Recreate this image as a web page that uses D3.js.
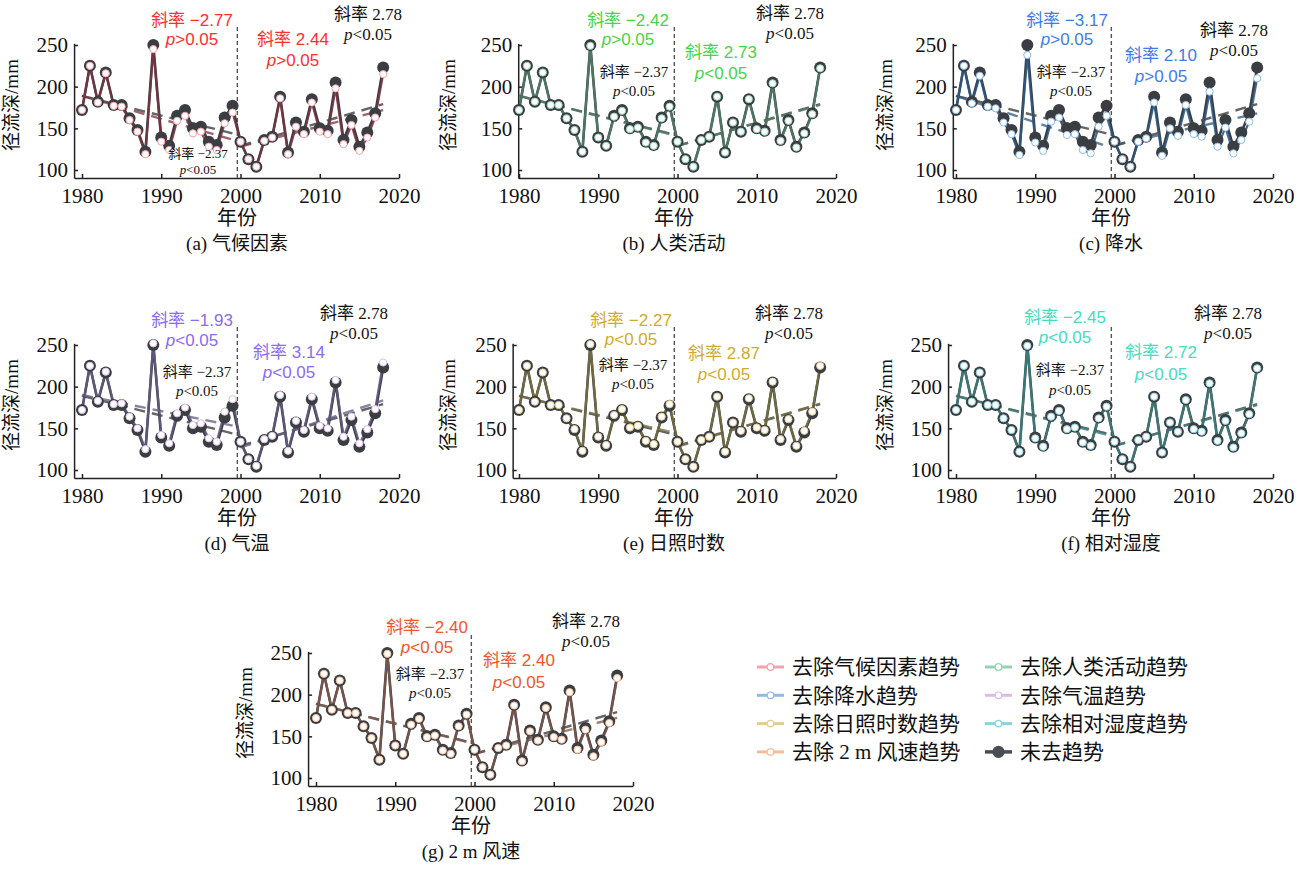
<!DOCTYPE html>
<html>
<head>
<meta charset="utf-8">
<script src="https://cdn.jsdelivr.net/npm/d3@7"></script>
<style>
  body { margin: 0; background: #fff; }
  svg text { font-family: "Liberation Serif", "Noto Sans CJK SC", serif; }
</style>
</head>
<body>
<div id="chart"></div>
<script>
//******** data ********
var years = d3.range(1980, 2019);
// 未去趋势 (original runoff depth, mm)
var runoff = [172,225,182,217,178,178,162,148,122,250,139,129,165,172,150,152,134,130,163,177,
              134,113,104,136,140,188,121,157,146,185,150,147,205,136,160,128,145,168,223];
// runoff after removing the trend of each factor
var noClimate  = [172,225,181,216,177,176,160,146,119,245,134,124,159,165,144,146,128,124,156,169,
                  134,113,104,135,139,186,119,152,143,181,146,143,198,131,154,123,139,163,215];
var noHuman    = [172,225,182,217,178,178,162,148,122,249,139,129,164,171,149,151,133,129,162,176,
                  134,113,104,136,140,188,121,157,146,185,149,146,204,135,159,127,144,167,222];
var noPrecip   = [172,225,180,213,176,174,157,143,118,238,133,123,158,163,142,143,124,120,152,165,
                  134,113,104,134,138,181,117,150,141,178,143,140,194,128,151,120,136,158,210];
var noTemp     = [172,225,183,218,179,180,164,150,125,252,142,132,168,175,154,156,138,134,170,185,
                  134,113,105,137,141,190,123,159,148,188,153,150,208,140,164,132,149,173,229];
var noSunshine = [172,225,182,217,178,178,162,149,123,251,140,130,166,173,151,153,135,131,164,179,
                  134,113,104,136,140,188,122,157,147,186,151,148,206,137,161,129,147,170,225];
var noHumidity = [172,225,182,217,178,178,162,148,122,249,138,128,164,171,149,151,133,129,162,176,
                  134,113,104,136,140,188,121,157,146,184,149,146,204,135,159,127,144,167,222];
var noWind     = [172,225,182,217,178,178,162,148,122,249,139,129,164,171,149,151,133,129,162,176,
                  134,113,104,136,139,187,120,156,145,184,149,146,203,134,158,126,143,166,220];

var panelIds   = ['a','b','c','d','e','f','g'];
var panelNames = ['气候因素','人类活动','降水','气温','日照时数','相对湿度','2 m 风速'];
var slopeBefore = [-2.77,-2.42,-3.17,-1.93,-2.27,-2.45,-2.40];
var slopeAfter  = [2.44, 2.73, 2.10, 3.14, 2.87, 2.72, 2.40];
var pBefore = ['>0.05','>0.05','>0.05','<0.05','<0.05','<0.05','<0.05'];
var pAfter  = ['>0.05','<0.05','>0.05','<0.05','<0.05','<0.05','<0.05'];
var trendStartBefore = [189,189,189,190,189,189,189];
var trendStartAfter  = [128,129,130,127,128,129,129];
var baseSlopeBefore = -2.37, baseSlopeAfter = 2.78;
var baseStartBefore = 189, baseStartAfter = 129;
var breakYear = 1999.6;

var xTicks = [1980,1990,2000,2010,2020];
var yTicks = [100,150,200,250];

var legendLabels = ['去除气候因素趋势','去除人类活动趋势','去除降水趋势','去除气温趋势',
                    '去除日照时数趋势','去除相对湿度趋势','去除 2 m 风速趋势'];

//******** styles ********
var labelColors = ['#ff2e2e','#47d447','#3d7de8','#8a6cf2','#cfab2c','#45dcc0','#f2562a'];
var lineColors  = ['#7a3340','#4f7d66','#2e5883','#615b82','#766f42','#3b7f7e','#7e574a'];
var lightColors = ['#f4a3aa','#93d3b5','#8fbbe3','#d9bde3','#e3cc8e','#8dd3df','#f7bb95'];
var darkColor = '#3a3d42';

var detrended = [noClimate, noHuman, noPrecip, noTemp, noSunshine, noHumidity, noWind];

// panel placement: x0 = pixel of 1980, y0 = pixel of 250 mm
// c1/c2/k/s: [dx, dy of first line, line gap]
var layout = [
  {x0: 82,  y0: 45,  axisYear: 1979,   c1: [110,-19,19], c2: [211,0,21],  k: [286,-25,20], s: [116,113,16], sf: 13},
  {x0: 519, y0: 45,  axisYear: 1979.9, c1: [109,-19,19], c2: [202,13,21], k: [271,-26,20], s: [115,32,19],  sf: 15},
  {x0: 956, y0: 45,  axisYear: 1979.6, c1: [111,-19,19], c2: [205,16,21], k: [278,-9,20],  s: [115,32,19],  sf: 15},
  {x0: 82,  y0: 345, axisYear: 1979,   c1: [110,-19,20], c2: [207,13,20], k: [272,-26,20], s: [115,32,19],  sf: 15},
  {x0: 519, y0: 345, axisYear: 1979.2, c1: [112,-19,19], c2: [205,14,21], k: [270,-26,20], s: [114,25,19],  sf: 15},
  {x0: 956, y0: 345, axisYear: 1979,   c1: [109,-22,20], c2: [205,13,22], k: [272,-26,20], s: [114,30,20],  sf: 15},
  {x0: 316, y0: 653, axisYear: 1979,   c1: [111,-20,20], c2: [203,13,22], k: [270,-26,20], s: [114,26,19],  sf: 15}
];

var svg = d3.select('#chart').append('svg')
  .attr('width', 1305).attr('height', 869);

var sansFont = '"Liberation Sans", "Noto Sans CJK SC", sans-serif';

function fmt(v) {
  return (v < 0 ? '\u2212' : '') + Math.abs(v).toFixed(2);
}

// two-line "斜率 x / p<0.05" note
function note(g, pos, x0, y0, slope, p, color, size, font) {
  var cx = x0 + pos[0], cy = y0 + pos[1];
  var t1 = g.append('text').attr('x', cx).attr('y', cy)
    .attr('text-anchor', 'middle').attr('fill', color).style('font-size', size + 'px')
    .text('斜率 ' + fmt(slope));
  var t2 = g.append('text').attr('x', cx).attr('y', cy + pos[2])
    .attr('text-anchor', 'middle').attr('fill', color).style('font-size', size + 'px');
  t2.append('tspan').style('font-style', 'italic').text('p');
  t2.append('tspan').text(p);
  if (font) { t1.style('font-family', font); t2.style('font-family', font); }
}

function drawPanel(i) {
  var L = layout[i];
  var g = svg.append('g');
  var pxPerYear = 317 / 40;
  var x = d3.scaleLinear().domain([L.axisYear, 2020])
    .range([L.x0 + (L.axisYear - 1980) * pxPerYear, L.x0 + 317]);
  var y = d3.scaleLinear().domain([90.4, 252]).range([L.y0 + 133, L.y0 - 1.67]);

  // axes
  var gx = g.append('g').attr('transform', 'translate(0,' + y(90.4) + ')')
    .call(d3.axisBottom(x).tickValues(xTicks).tickFormat(d3.format('d'))
      .tickSizeInner(-4).tickSizeOuter(0).tickPadding(10));
  var gy = g.append('g').attr('transform', 'translate(' + x(L.axisYear) + ',0)')
    .call(d3.axisLeft(y).tickValues(yTicks).tickSizeInner(-4).tickSizeOuter(0).tickPadding(6));
  [gx, gy].forEach(function(a) {
    a.attr('font-size', null).attr('font-family', null);
    a.select('.domain').attr('stroke', '#222').attr('stroke-width', 1.5);
    a.selectAll('.tick line').attr('stroke', '#222').attr('stroke-width', 1.5);
    a.selectAll('.tick text').attr('fill', '#111')
      .style('font-family', '"Liberation Serif", serif').style('font-size', '21px');
  });

  // break line
  g.append('line')
    .attr('x1', x(breakYear)).attr('x2', x(breakYear))
    .attr('y1', y(250) - 18).attr('y2', y(90.4))
    .attr('stroke', '#555').attr('stroke-width', 1.4).attr('stroke-dasharray', '4,3');

  var line = d3.line().x(function(d) { return x(d[0]); }).y(function(d) { return y(d[1]); });
  var orig = years.map(function(yr, j) { return [yr, runoff[j]]; });
  var det = years.map(function(yr, j) { return [yr, detrended[i][j]]; });

  g.append('path').datum(orig).attr('d', line)
    .attr('fill', 'none').attr('stroke', darkColor).attr('stroke-width', 2.6);
  g.append('path').datum(det).attr('d', line)
    .attr('fill', 'none').attr('stroke', lineColors[i]).attr('stroke-width', 2.2).attr('opacity', 0.9);

  // trend lines (dashed)
  function trend(y1, y2, start, slope) {
    return [[y1, start], [y2, start + slope * (y2 - y1)]];
  }
  var trends = [
    {d: trend(1980, 1999, baseStartBefore, baseSlopeBefore), c: '#4a4a4a', o: 0.85},
    {d: trend(2000, 2018, baseStartAfter, baseSlopeAfter), c: '#4a4a4a', o: 0.85},
    {d: trend(1980, 1999, trendStartBefore[i], slopeBefore[i]), c: lineColors[i], o: 0.75},
    {d: trend(2000, 2018, trendStartAfter[i], slopeAfter[i]), c: lineColors[i], o: 0.75}
  ];
  trends.forEach(function(t) {
    g.append('path').datum(t.d).attr('d', line)
      .attr('fill', 'none').attr('stroke', t.c).attr('stroke-opacity', t.o)
      .attr('stroke-width', 2.4).attr('stroke-dasharray', '11,7');
  });

  // markers
  g.selectAll('circle.orig').data(orig).enter().append('circle')
    .attr('class', 'orig')
    .attr('cx', function(d) { return x(d[0]); })
    .attr('cy', function(d) { return y(d[1]); })
    .attr('r', 6).attr('fill', darkColor);
  g.selectAll('circle.det').data(det).enter().append('circle')
    .attr('class', 'det')
    .attr('cx', function(d) { return x(d[0]); })
    .attr('cy', function(d) { return y(d[1]); })
    .attr('r', 3.6).attr('fill', '#fff').attr('stroke', lightColors[i]).attr('stroke-width', 1);

  // axis titles and caption
  g.append('text')
    .attr('transform', 'translate(' + (L.x0 - 64) + ',' + (L.y0 + 60) + ') rotate(-90)')
    .attr('text-anchor', 'middle').style('font-size', '19px').attr('fill', '#111')
    .text('径流深/mm');
  g.append('text').attr('x', L.x0 + 155).attr('y', L.y0 + 180)
    .attr('text-anchor', 'middle').style('font-size', '20px').attr('fill', '#111')
    .text('年份');
  g.append('text').attr('x', L.x0 + 155).attr('y', L.y0 + 205)
    .attr('text-anchor', 'middle').style('font-size', '19px').attr('fill', '#111')
    .text('(' + panelIds[i] + ') ' + panelNames[i]);

  // slope notes
  note(g, L.c1, L.x0, L.y0, slopeBefore[i], pBefore[i], labelColors[i], 17, sansFont);
  note(g, L.c2, L.x0, L.y0, slopeAfter[i], pAfter[i], labelColors[i], 17, sansFont);
  note(g, L.k, L.x0, L.y0, baseSlopeAfter, '<0.05', '#111', 17);
  note(g, L.s, L.x0, L.y0, baseSlopeBefore, '<0.05', '#111', L.sf);
}

for (var i = 0; i < panelIds.length; i++) drawPanel(i);

//******** legend ********
var legendOrder = [0, 2, 4, 6, 1, 3, 5, -1];
var legend = svg.append('g');
legendOrder.forEach(function(k, n) {
  var col = Math.floor(n / 4), row = n % 4;
  var sx = col ? 985 : 757, cy = 667 + row * 28.3;
  var item = legend.append('g');
  var c = k < 0 ? '#4a4e54' : lightColors[k];
  item.append('line').attr('x1', sx).attr('x2', sx + 27).attr('y1', cy).attr('y2', cy)
    .attr('stroke', c).attr('stroke-width', k < 0 ? 3.5 : 3);
  item.append('circle').attr('cx', sx + 13.5).attr('cy', cy)
    .attr('r', k < 0 ? 5.5 : 3.3)
    .attr('fill', k < 0 ? '#4a4e54' : '#fff')
    .attr('stroke', c).attr('stroke-width', 1.2);
  item.append('text').attr('x', sx + 35).attr('y', cy).attr('dy', '0.35em')
    .style('font-size', '21px').attr('fill', '#111')
    .text(k < 0 ? '未去趋势' : legendLabels[k]);
});
</script>
</body>
</html>
